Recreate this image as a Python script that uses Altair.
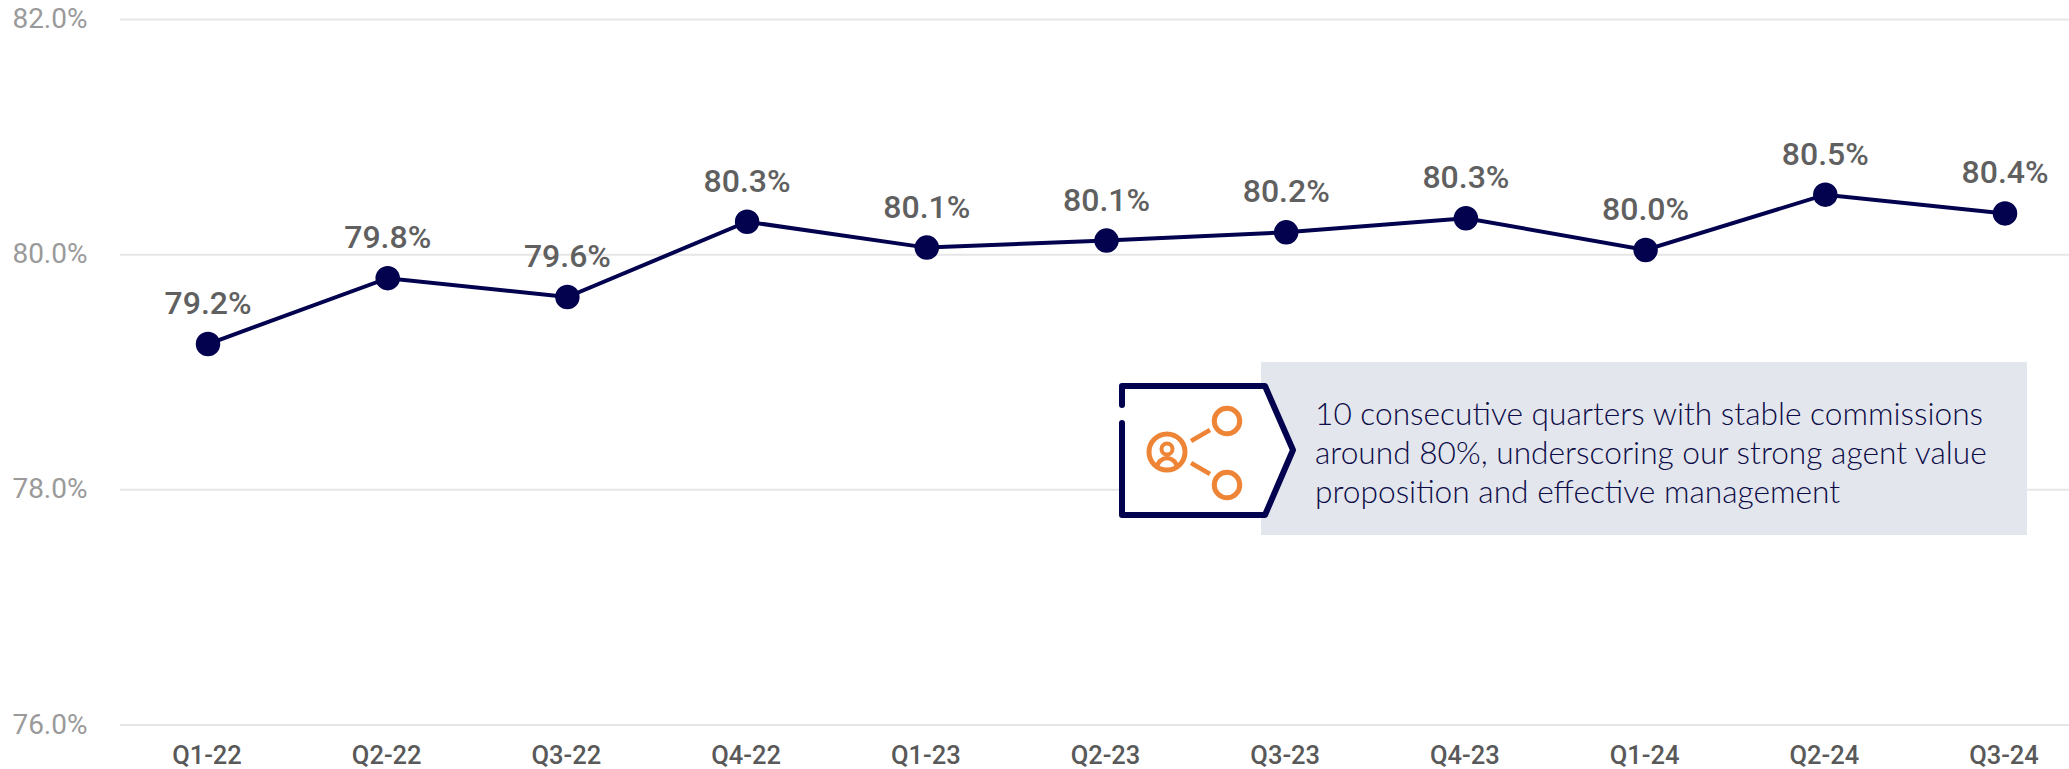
import altair as alt
import pandas as pd

# Commission share by quarter
quarters = ["Q1-22", "Q2-22", "Q3-22", "Q4-22", "Q1-23", "Q2-23", "Q3-23", "Q4-23", "Q1-24", "Q2-24", "Q3-24"]
shares = [79.24, 79.80, 79.64, 80.28, 80.06, 80.12, 80.19, 80.31, 80.04, 80.51, 80.351]
y_ticks = [76, 78, 80, 82]

note_lines = [
    "10 consecutive quarters with stable commissions",
    "around 80%, underscoring our strong agent value",
    "proposition and effective management",
]

NAVY = "#02024F"
ORANGE = "#EE8436"
PAD_L, PAD_T = 120, 19.5


def px(xs, ys, **extra):
    """Table in page pixels, shifted into the plot area's coordinates."""
    d = {"x": [v - PAD_L for v in xs], "y": [v - PAD_T for v in ys]}
    d.update(extra)
    return pd.DataFrame(d)


X_PX = alt.X("x:Q", scale=None, axis=None)
Y_PX = alt.Y("y:Q", scale=None, axis=None)

data = pd.DataFrame({"quarter": quarters, "share": shares})

x_enc = alt.X(
    "quarter:N",
    title=None,
    sort=quarters,
    scale=alt.Scale(type="point", domain=quarters, range=[88, 1885], padding=0),
    axis=alt.Axis(
        labelAngle=0, labelFont="Roboto", labelFontSize=25.5, labelFontWeight=500, labelColor="#595959",
        labelPadding=18, labelOffset=-1.5, domain=False, ticks=False, grid=False,
    ),
)
y_scale = alt.Scale(domain=[76, 82], nice=False, zero=False)
y_axis = alt.Axis(
    values=y_ticks, labelExpr="format(datum.value, '.1f') + '%'",
    labelFont="Roboto", labelFontSize=28, labelColor="#9A9A9A", labelPadding=33,
    domain=False, ticks=False, grid=False,
)
y_enc = alt.Y("share:Q", title=None, scale=y_scale, axis=y_axis)

# Horizontal guides across the whole plot width
grid = alt.Chart(pd.DataFrame({"share": y_ticks})).mark_rule(color="#E6E6E6", strokeWidth=2).encode(y=y_enc)

base = alt.Chart(data).encode(x=x_enc, y=y_enc)
line = base.mark_line(color=NAVY, strokeWidth=4)
points = base.mark_point(filled=True, color=NAVY, size=600, opacity=1)
labels = base.transform_calculate(lbl="format(datum.share, '.1f') + '%'").mark_text(
    font="Roboto", fontSize=32, fontWeight=500, color="#606060", baseline="alphabetic", dy=-30
).encode(text="lbl:N")

series = alt.layer(grid, line, points, labels)

# Grey panel behind the note
panel = alt.Chart(pd.DataFrame({"x": [1261 - PAD_L], "x2": [2027 - PAD_L], "y": [362 - PAD_T], "y2": [535 - PAD_T]})).mark_rect(
    color="#E3E6EC"
).encode(x=X_PX, x2="x2:Q", y=Y_PX, y2="y2:Q")

# White arrow-shaped badge holding the icon
badge_df = pd.DataFrame({
    "x": [v - PAD_L for v in [1122, 1265, 1293]],
    "y": [v - PAD_T for v in [386, 386, 450]],
    "y2": [v - PAD_T for v in [515, 515, 450]],
})
badge = alt.Chart(badge_df).mark_area(color="white", opacity=1).encode(x=X_PX, y=Y_PX, y2="y2:Q")

outline_df = px([1122, 1122, 1265, 1293, 1265, 1122, 1122], [405, 386, 386, 450, 515, 515, 423], order=list(range(7)))
outline = alt.Chart(outline_df).mark_line(color=NAVY, strokeWidth=6, strokeCap="round", strokeJoin="round").encode(
    x=X_PX, y=Y_PX, order="order:O"
)


def ring(cx, cy, diameter, width):
    return alt.Chart(px([cx], [cy])).mark_point(
        shape="circle", filled=False, color=ORANGE, strokeWidth=width, size=diameter ** 2, opacity=1
    ).encode(x=X_PX, y=Y_PX)


def stroke(xs, ys, interpolate="linear"):
    return alt.Chart(px(xs, ys, order=list(range(len(xs))))).mark_line(
        color=ORANGE, strokeWidth=4.5, interpolate=interpolate
    ).encode(x=X_PX, y=Y_PX, order="order:O")


icon = [
    ring(1227, 421, 25.5, 5),
    ring(1227, 485, 25.5, 5),
    ring(1167, 452, 36, 5),
    ring(1167, 449, 11, 4),
    stroke([1191, 1210], [441, 430]),
    stroke([1191, 1210], [463, 474]),
    stroke([1156, 1160, 1167, 1174, 1178], [468, 461, 458, 461, 468], "monotone"),
]

note = alt.Chart(px([1315, 1315, 1315], [425, 464, 503], line=note_lines)).mark_text(
    font="Lato", fontWeight=300, fontSize=31.7, color="#0C0C48", align="left", baseline="alphabetic"
).encode(x=X_PX, y=Y_PX, text="line:N")

chart = alt.layer(series, panel, badge, outline, *icon, note).resolve_scale(
    x="independent", y="independent"
).resolve_axis(x="independent", y="independent").properties(
    width=2069 - PAD_L,
    height=705.5,
    padding={"left": PAD_L, "top": PAD_T, "right": 0, "bottom": 44},
    autosize=alt.AutoSizeParams(type="none"),
    background="white",
).configure_view(stroke=None)

chart.save("out.html", embed_options={"renderer": "svg", "actions": False})
